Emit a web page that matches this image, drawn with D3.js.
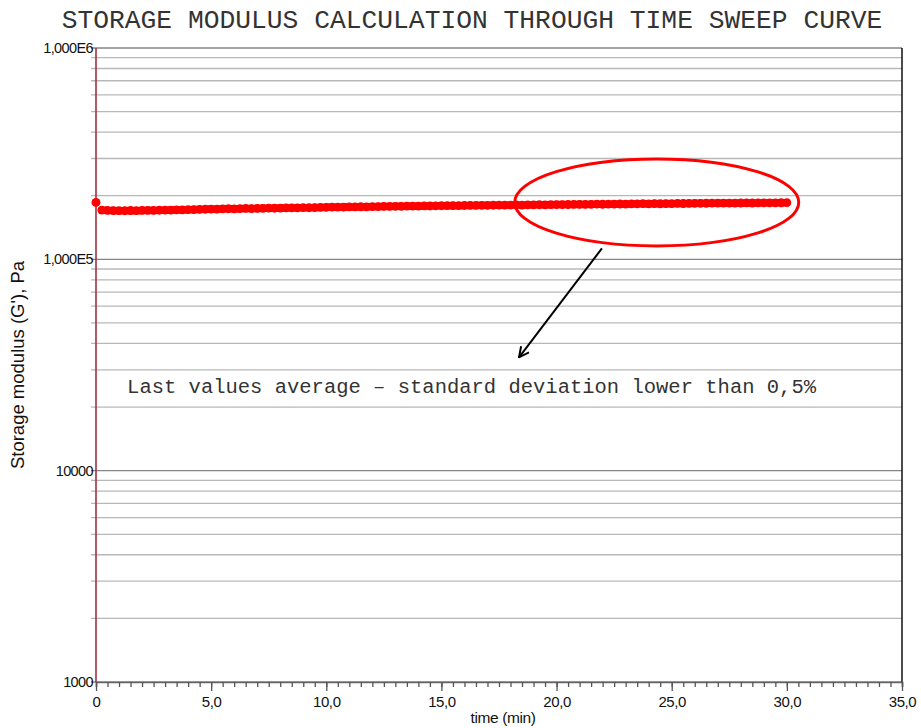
<!DOCTYPE html>
<html>
<head>
<meta charset="utf-8">
<script src="https://cdn.jsdelivr.net/npm/d3@7"></script>
<style>
  body { margin: 0; background: #fff; }
  svg text { font-family: "Liberation Sans", Arial, sans-serif; }
</style>
</head>
<body>
<div id="chart"></div>
<script>
// chart data
var timeStep = 0.25; // min between readings
var storageModulus = [
  186000, 171000, 170400, 170100, 170000, 169800, 170200, 170000, 170300, 170500,
  170400, 170700, 170900, 171100, 171500, 171300, 171800, 172000, 172300, 172600,
  173000, 172800, 173300, 173500, 173400, 173700, 174200, 173900, 174100, 174400,
  174600, 174500, 174800, 175000, 175100, 175300, 175500, 175400, 175800, 176000,
  176300, 176800, 176500, 176700, 177000, 177100, 177300, 177200, 177500, 177700,
  177900, 178000, 178200, 178100, 178400, 178600, 178500, 179000, 178800, 179100,
  179300, 179400, 179600, 179500, 179800, 179900, 180000, 180200, 180100, 180300,
  180500, 180400, 180600, 180800, 180700, 181000, 181100, 181300, 181200, 181400,
  181600, 181500, 181700, 181800, 182000, 181900, 182100, 182300, 182200, 182400,
  182500, 182700, 182600, 182800, 183000, 183400, 182900, 183500, 183200, 183600,
  183300, 183800, 183700, 183900, 184100, 184000, 184200, 184300, 184400, 184500,
  184400, 184600, 184700, 184800, 184700, 184900, 185000, 185100, 185000, 185200,
  185300
];
var xMajorTicks = [0, 5, 10, 15, 20, 25, 30, 35];
var xTickLabels = ["0", "5,0", "10,0", "15,0", "20,0", "25,0", "30,0", "35,0"];
var yDecades = [1000, 10000, 100000, 1000000];
var yTickLabels = ["1000", "10000", "1,000E5", "1,000E6"];

// annotation (data units)
var ellipseCenter = [24.35, 186000];
var arrowFrom = [21.97, 112700];
var arrowTo = [18.37, 34400];
var noteAt = [1.35, 23200];
var noteText = "Last values average \u2013 standard deviation lower than 0,5%";

var width = 921, height = 728;
var margin = {top: 48, right: 19, bottom: 46, left: 96};

var svg = d3.select("#chart").append("svg")
    .attr("width", width)
    .attr("height", height);

var x = d3.scaleLinear().domain([0, 35]).range([margin.left, width - margin.right]);
var y = d3.scaleLog().domain([1000, 1000000]).range([height - margin.bottom, margin.top]);

// horizontal grid (minor first, then decades)
var yAll = y.ticks();
svg.append("g").selectAll("line")
    .data(yAll.filter(function(d) { return yDecades.indexOf(d) < 0; }))
  .enter().append("line")
    .attr("x1", x(0) - 5).attr("x2", x(35))
    .attr("y1", function(d) { return y(d); })
    .attr("y2", function(d) { return y(d); })
    .attr("stroke", "#b8b8b8")
    .attr("stroke-width", 1.3);

svg.append("g").selectAll("line")
    .data(yDecades)
  .enter().append("line")
    .attr("x1", x(0) - 5).attr("x2", x(35))
    .attr("y1", function(d) { return y(d); })
    .attr("y2", function(d) { return y(d); })
    .attr("stroke", "#858585")
    .attr("stroke-width", 1.4);

// y labels
svg.append("g").selectAll("text")
    .data(yDecades)
  .enter().append("text")
    .attr("x", x(0) - 3)
    .attr("y", function(d) { return y(d) + 5; })
    .attr("text-anchor", "end")
    .style("font-size", "14.5px")
    .style("letter-spacing", "-0.6px")
    .attr("fill", "#111")
    .text(function(d, i) { return yTickLabels[i]; });

// right border
svg.append("line")
    .attr("x1", x(35)).attr("x2", x(35))
    .attr("y1", y(1000000)).attr("y2", y(1000))
    .attr("stroke", "#111").attr("stroke-width", 1.5);

// x axis
var xMinor = d3.axisBottom(x)
    .tickValues(d3.range(0, 35.01, 0.5))
    .tickSize(5)
    .tickFormat("");
svg.append("g")
    .attr("transform", "translate(0," + y(1000) + ")")
    .call(xMinor)
    .call(function(g) {
      g.select(".domain").attr("stroke", "#666").attr("stroke-width", 1.5);
      g.selectAll(".tick line").attr("stroke", "#555").attr("stroke-width", 1.3);
    });

var xAxis = d3.axisBottom(x)
    .tickValues(xMajorTicks)
    .tickSize(9)
    .tickPadding(5)
    .tickFormat(function(d, i) { return xTickLabels[i]; });
svg.append("g")
    .attr("transform", "translate(0," + y(1000) + ")")
    .call(xAxis)
    .call(function(g) {
      g.select(".domain").remove();
      g.selectAll(".tick line").attr("stroke", "#555").attr("stroke-width", 1.3);
      g.selectAll(".tick text")
        .attr("fill", "#111")
        .style("font-family", "'Liberation Sans', Arial, sans-serif")
        .style("font-size", "15px")
        .style("letter-spacing", "-0.4px");
    });

// left axis line
svg.append("line")
    .attr("x1", x(0)).attr("x2", x(0))
    .attr("y1", y(1000000)).attr("y2", y(1000))
    .attr("stroke", "#a3303f").attr("stroke-width", 1.6);

// axis titles
svg.append("text")
    .attr("x", 503).attr("y", 723)
    .attr("text-anchor", "middle")
    .style("font-size", "15.5px")
    .style("letter-spacing", "-0.4px")
    .attr("fill", "#111")
    .text("time (min)");

svg.append("text")
    .attr("transform", "translate(24," + (y(1000) + y(1000000)) / 2 + ") rotate(-90)")
    .attr("text-anchor", "middle")
    .style("font-size", "18.5px")
    .attr("fill", "#111")
    .text("Storage modulus (G'), Pa");

// title
svg.append("text")
    .attr("x", 472).attr("y", 28)
    .attr("text-anchor", "middle")
    .style("font-family", "'Liberation Mono', 'Courier New', monospace")
    .style("font-size", "26.3px")
    .attr("fill", "#333")
    .text("STORAGE MODULUS CALCULATION THROUGH TIME SWEEP CURVE");

// series
var points = storageModulus.map(function(v, i) { return [i * timeStep, v]; });
var line = d3.line()
    .x(function(d) { return x(d[0]); })
    .y(function(d) { return y(d[1]); });

svg.append("path")
    .datum(points.slice(1))
    .attr("d", line)
    .attr("fill", "none")
    .attr("stroke", "#ff0000")
    .attr("stroke-width", 7.5);

svg.append("g").selectAll("circle")
    .data(points)
  .enter().append("circle")
    .attr("cx", function(d) { return x(d[0]); })
    .attr("cy", function(d) { return y(d[1]); })
    .attr("r", function(d, i) { return i === 0 ? 4.5 : 4.4; })
    .attr("fill", "#ff0000");

// highlight ellipse
svg.append("ellipse")
    .attr("cx", x(ellipseCenter[0]))
    .attr("cy", y(ellipseCenter[1]))
    .attr("rx", 142)
    .attr("ry", 43.5)
    .attr("fill", "none")
    .attr("stroke", "#ff0000")
    .attr("stroke-width", 3);

// arrow
svg.append("defs").append("marker")
    .attr("id", "arrowhead")
    .attr("viewBox", "0 0 12 12")
    .attr("refX", 11).attr("refY", 6)
    .attr("markerWidth", 12).attr("markerHeight", 12)
    .attr("markerUnits", "userSpaceOnUse")
    .attr("orient", "auto")
  .append("path")
    .attr("d", "M1,1 L11,6 L1,11")
    .attr("fill", "none")
    .attr("stroke", "#000")
    .attr("stroke-width", 2);

svg.append("line")
    .attr("x1", x(arrowFrom[0])).attr("y1", y(arrowFrom[1]))
    .attr("x2", x(arrowTo[0])).attr("y2", y(arrowTo[1]))
    .attr("stroke", "#000")
    .attr("stroke-width", 2)
    .attr("marker-end", "url(#arrowhead)");

svg.append("text")
    .attr("x", x(noteAt[0])).attr("y", y(noteAt[1]))
    .style("font-family", "'Liberation Mono', 'Courier New', monospace")
    .style("font-size", "20.5px")
    .attr("fill", "#333")
    .text(noteText);
</script>
</body>
</html>
